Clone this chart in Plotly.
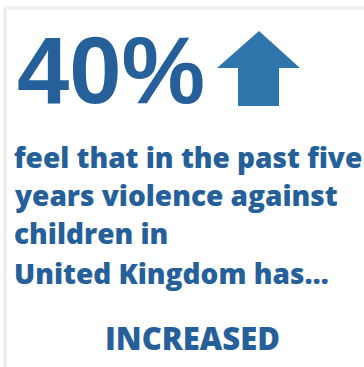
import plotly.graph_objects as go

# Survey result shown on the card
share_pct = 40
direction = "INCREASED"
statement_lines = [
    "feel that in the past five",
    "years violence against",
    "children in",
    "United Kingdom has\u2026",
]
statement_baselines = [166, 204, 242, 282]

W, H = 364, 367
TEXT_BLUE = "#25609a"
ARROW_BLUE = "#2e75ab"
FRAME_GREY = "#ececec"

fig = go.Figure()

# Frame lines along the top and left edges of the card
fig.add_shape(type="line", x0=5, x1=W, y0=8, y1=8,
              line=dict(color=FRAME_GREY, width=3), layer="below")
fig.add_shape(type="line", x0=5, x1=5, y0=8, y1=H,
              line=dict(color=FRAME_GREY, width=3), layer="below")

# Up-arrow icon next to the headline figure
fig.add_shape(
    type="path",
    path="M 259 31 L 300 68 L 279 68 L 279 106 L 238 106 L 238 68 L 217 68 Z",
    fillcolor=ARROW_BLUE, line=dict(width=0),
)

# Headline percentage
fig.add_annotation(
    x=15, y=70, xanchor="left", yanchor="middle",
    text=f"{share_pct}%", showarrow=False,
    font=dict(family="Liberation Sans", size=94, color=TEXT_BLUE, weight="bold"),
)

# Statement text, one line per annotation
body_font = dict(family="Open Sans", size=28, color=TEXT_BLUE, weight=800)
for line, base in zip(statement_lines, statement_baselines):
    fig.add_annotation(
        x=12, y=base - 9, xanchor="left", yanchor="middle",
        text=line, showarrow=False, font=body_font,
    )

fig.add_annotation(
    x=192, y=348 - 10, xanchor="center", yanchor="middle",
    text=direction, showarrow=False,
    font=dict(family="Open Sans", size=31, color=TEXT_BLUE, weight=800),
)

fig.update_xaxes(range=[0, W], visible=False, fixedrange=True)
fig.update_yaxes(range=[H, 0], visible=False, fixedrange=True)
fig.update_layout(
    width=W, height=H,
    margin=dict(l=0, r=0, t=0, b=0),
    paper_bgcolor="white", plot_bgcolor="white",
    showlegend=False,
)

fig.write_html("out.html")
